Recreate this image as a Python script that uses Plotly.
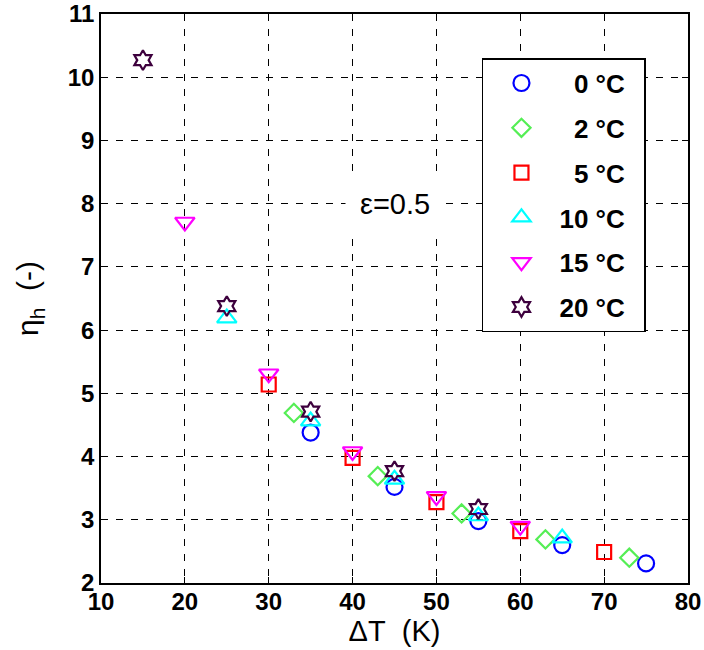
import plotly.graph_objects as go

# data
labels = ["0 °C", "2 °C", "5 °C", "10 °C", "15 °C", "20 °C"]
x_0 = [35, 45, 55, 65, 75]
y_0 = [4.38, 3.52, 2.98, 2.6, 2.31]
x_2 = [33, 43, 53, 63, 73]
y_2 = [4.69, 3.69, 3.1, 2.69, 2.4]
x_5 = [30, 40, 50, 60, 70]
y_5 = [5.14, 3.98, 3.28, 2.82, 2.49]
x_10 = [25, 35, 45, 55, 65]
y_10 = [6.19, 4.56, 3.64, 3.06, 2.71]
x_15 = [20, 30, 40, 50, 60]
y_15 = [7.71, 5.31, 4.08, 3.37, 2.9]
x_20 = [15, 25, 35, 45, 55]
y_20 = [10.27, 6.38, 4.71, 3.77, 3.17]

x_ticks = [10, 20, 30, 40, 50, 60, 70, 80]
y_ticks = [2, 3, 4, 5, 6, 7, 8, 9, 10, 11]

xs = [x_0, x_2, x_5, x_10, x_15, x_20]
ys = [y_0, y_2, y_5, y_10, y_15, y_20]
symbols = ["circle-open", "diamond-open", "square-open", "triangle-up-open", "triangle-down-open", "hexagram-open"]
colors = ["#0000ff", "#55ee55", "#ff0000", "#00ffff", "#ff00ff", "#3d003d"]
sizes = [16, 14, 14, 17, 17, 15]

NB = "\u00a0"
fig = go.Figure()
for i in range(6):
    lab = labels[i]
    pad = NB * 2 if len(lab.split(" ")[0]) == 1 else ""
    fig.add_trace(go.Scatter(
        x=xs[i], y=ys[i], mode="markers", name=pad + lab + NB * 2,
        legendgroup=str(i),
        marker=dict(symbol=symbols[i], color=colors[i], size=sizes[i],
                    line=dict(width=2.2, color=colors[i])),
    ))

tickfont = dict(family="Liberation Sans", size=24, color="black", weight=700)
axis_common = dict(
    showgrid=True, gridcolor="black", griddash="7px,8px", gridwidth=1,
    showline=True, linecolor="black", linewidth=1.5, mirror="allticks",
    ticks="inside", ticklen=6, tickcolor="black", zeroline=False,
    tickfont=tickfont, ticklabeloverflow="allow",
)

fig.update_xaxes(range=[10, 80], tickmode="array", tickvals=x_ticks,
                 ticktext=["<b>%d</b>" % v for v in x_ticks],
                 ticklabelstandoff=-4,
                 title=dict(text="ΔT" + NB * 2 + "(K)", font=dict(family="Liberation Sans", size=29, color="black"), standoff=3),
                 **axis_common)
fig.update_yaxes(range=[2, 11], tickmode="array", tickvals=y_ticks,
                 ticktext=["<b>%d</b>" % v for v in y_ticks],
                 title=dict(text="η<sub>h</sub>" + NB * 2 + "(-)", font=dict(family="Liberation Sans", size=30, color="black"), standoff=20),
                 **axis_common)

fig.add_annotation(x=45.0, y=8.0, xref="x", yref="y", text="ε=0.5", showarrow=False,
                   font=dict(family="Liberation Sans", size=29, color="black"),
                   bgcolor="white", borderpad=14)

fig.update_layout(
    width=704, height=650,
    margin=dict(l=101, r=16, t=14, b=67, autoexpand=False),
    paper_bgcolor="white", plot_bgcolor="white",
    showlegend=True,
    legend=dict(x=0.649, y=0.9225, xanchor="left", yanchor="top",
                bgcolor="white", bordercolor="black", borderwidth=1.5,
                font=dict(family="Liberation Sans", size=26, color="black", weight=700),
                tracegroupgap=8, itemwidth=66),
)

fig.write_html("out.html", config={"displayModeBar": False},
               post_script="document.body.style.margin='0px';")
